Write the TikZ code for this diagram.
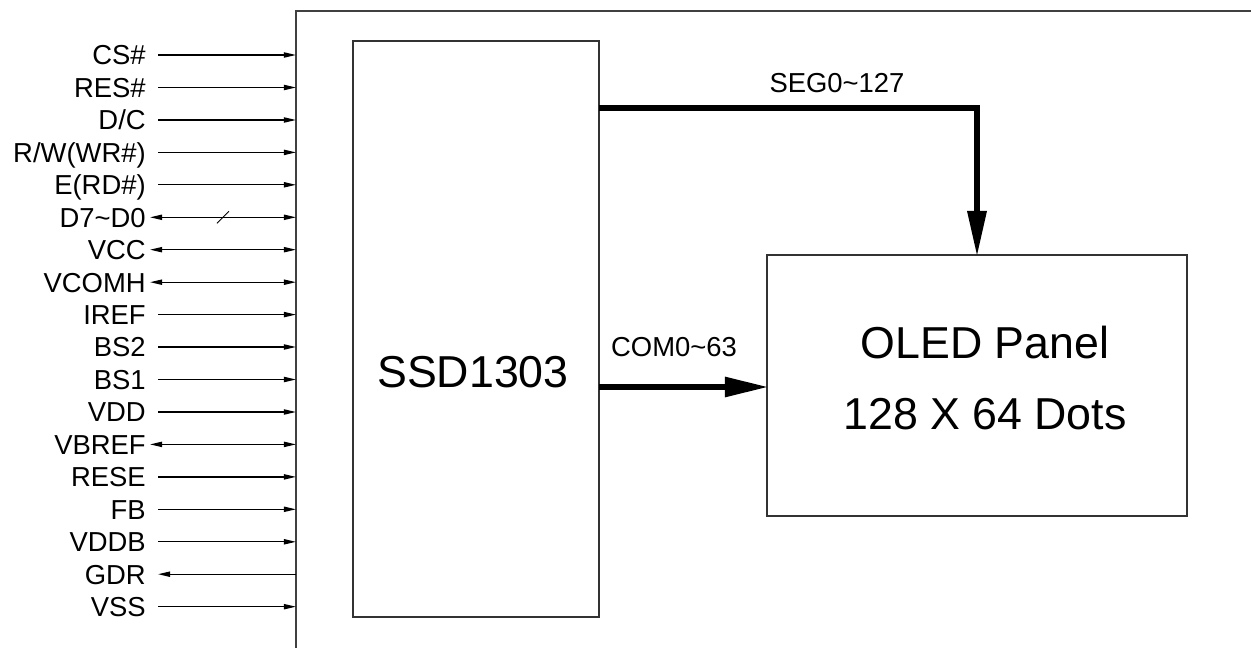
\documentclass[tikz,border=0pt]{standalone}
\usepackage{fontspec}
\setmainfont{Liberation Sans}
\usepackage{tikz}
\usetikzlibrary{arrows.meta,positioning,calc}
\newcommand\pinfont{\fontsize{19.5}{23}\selectfont}
\newcommand\blockfont{\fontsize{31.8}{50.5}\selectfont}
\tikzset{
  pinlabel/.style={anchor=east,inner sep=0pt,font=\pinfont,text height=14pt,text depth=0pt},
  pinin/.style={-{Triangle[length=3mm,width=1.3mm]},line width=0.9pt,shorten <=3mm},
  pinbi/.style={{Triangle[length=3mm,width=1.3mm]}-{Triangle[length=3mm,width=1.3mm]},line width=0.9pt,shorten <=1mm},
  pinout/.style={-{Triangle[length=3mm,width=1.3mm]},line width=0.9pt,shorten >=3mm},
  chipbox/.style={draw=black!80,line width=1pt,minimum width=6.15cm,minimum height=14.4cm,inner sep=0pt,outer sep=0pt},
  panelbox/.style={draw=black!80,line width=1pt,minimum width=10.5cm,minimum height=6.525cm,inner sep=0pt,outer sep=0pt},
  frameline/.style={draw=black!75,line width=1pt},
  segbus/.style={-{Triangle[length=11mm,width=5mm,line width=0pt]},line width=1.7mm},
  combus/.style={-{Triangle[length=10.5mm,width=5.2mm,line width=0pt]},line width=1.3mm},
  buslabel/.style={anchor=base,inner sep=0pt,font=\pinfont}
}

\begin{document}
\begin{tikzpicture}[x=0.025cm,y=-0.025cm]
  \useasboundingbox (0,0) rectangle (1251,648);
  % outer frame, open to the right and below
  \coordinate (fl) at (296,11);
  \draw[frameline] (296,648) |- (1251,11);
  % chip and panel
  \node[chipbox] (chip) at (476,329) {};
  \node[font=\blockfont,inner sep=0pt,text height=22.8pt,text depth=0pt] (chipname) at (473,371) {SSD1303};
  \node[panelbox] (panel) at (977,385.5) {};
  \node[font=\blockfont,align=center,inner sep=0pt] (paneltext) at (985,378) {OLED Panel\\128 X 64 Dots};
  % pin names
  \node[pinlabel] (cs) at (146,55) {CS\#};
  \node[pinlabel] (res) at (146,87.5) {RES\#};
  \node[pinlabel] (dc) at (146,120) {D/C};
  \node[pinlabel] (rw) at (146,152.4) {R/W(WR\#)};
  \node[pinlabel] (erd) at (146,184.8) {E(RD\#)};
  \node[pinlabel] (data) at (146,217.3) {D7\textasciitilde D0};
  \node[pinlabel] (vcc) at (146,249.7) {VCC};
  \node[pinlabel] (vcomh) at (146,282.2) {VCOMH};
  \node[pinlabel] (iref) at (146,314.6) {IREF};
  \node[pinlabel] (bstwo) at (146,347) {BS2};
  \node[pinlabel] (bsone) at (146,379.5) {BS1};
  \node[pinlabel] (vdd) at (146,412) {VDD};
  \node[pinlabel] (vbref) at (146,444.4) {VBREF};
  \node[pinlabel] (rese) at (146,476.9) {RESE};
  \node[pinlabel] (fb) at (146,509.3) {FB};
  \node[pinlabel] (vddb) at (146,541.8) {VDDB};
  \node[pinlabel] (gdr) at (146,574.2) {GDR};
  \node[pinlabel] (vss) at (146,606.7) {VSS};
  % pin lines
  \draw[pinin] (cs) -- (cs -| fl);
  \draw[pinin] (res) -- (res -| fl);
  \draw[pinin] (dc) -- (dc -| fl);
  \draw[pinin] (rw) -- (rw -| fl);
  \draw[pinin] (erd) -- (erd -| fl);
  \draw[pinbi] (data) -- (data -| fl);
  \draw[line width=0.6pt] ($(data -| fl)+(-79,6)$) -- ++(12,-12);
  \draw[pinbi] (vcc) -- (vcc -| fl);
  \draw[pinbi] (vcomh) -- (vcomh -| fl);
  \draw[pinin] (iref) -- (iref -| fl);
  \draw[pinin] (bstwo) -- (bstwo -| fl);
  \draw[pinin] (bsone) -- (bsone -| fl);
  \draw[pinin] (vdd) -- (vdd -| fl);
  \draw[pinbi] (vbref) -- (vbref -| fl);
  \draw[pinin] (rese) -- (rese -| fl);
  \draw[pinin] (fb) -- (fb -| fl);
  \draw[pinin] (vddb) -- (vddb -| fl);
  \draw[pinout] (gdr -| fl) -- (gdr);
  \draw[pinin] (vss) -- (vss -| fl);
  % buses to the panel
  \coordinate (segout) at (chip.east |- 0,108);
  \coordinate (segin) at (panel.north -| 977,0);
  \draw[segbus] (segout) -| (segin);
  \node[buslabel] (seglabel) at (837,93) {SEG0\textasciitilde 127};
  \coordinate (comout) at (chip.east |- 0,387);
  \draw[combus] (comout) -- (comout -| panel.west);
  \node[buslabel] (comlabel) at (674,357) {COM0\textasciitilde 63};
\end{tikzpicture}
\end{document}
